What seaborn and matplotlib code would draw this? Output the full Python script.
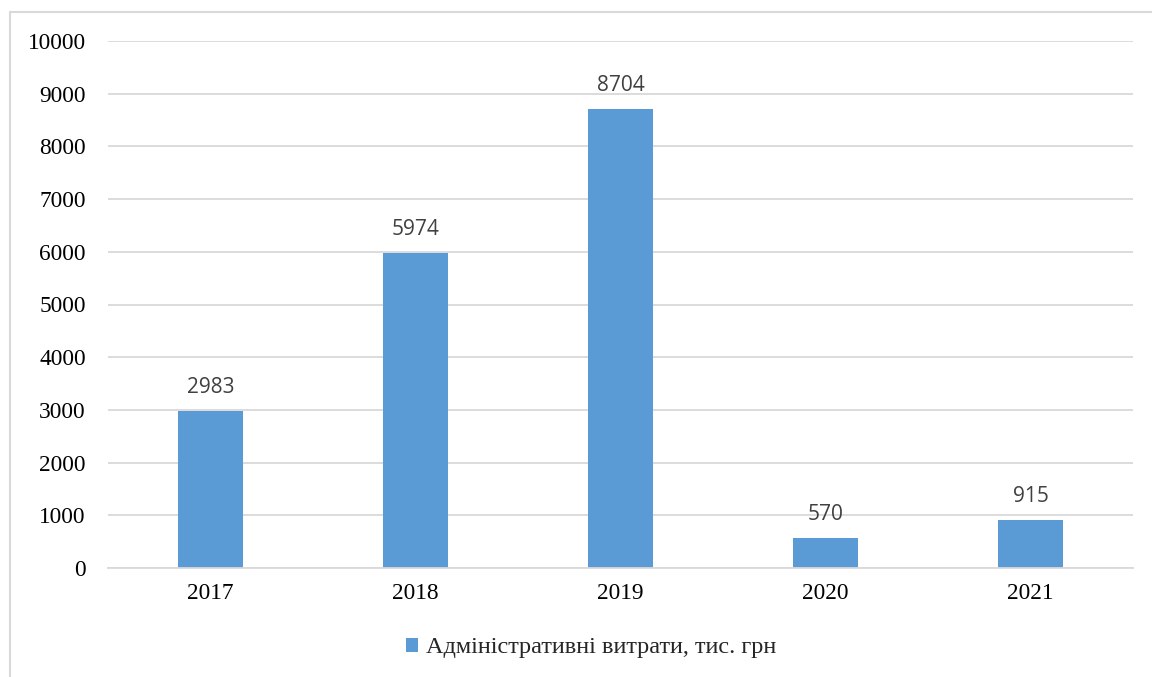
import matplotlib
matplotlib.use("Agg")
import matplotlib.pyplot as plt
from matplotlib.patches import Rectangle
import seaborn as sns
import pandas as pd

# Data
years = ["2017", "2018", "2019", "2020", "2021"]
admin_costs = [2983, 5974, 8704, 570, 915]
series_name = "Адміністративні витрати, тис. грн"
y_ticks = [0, 1000, 2000, 3000, 4000, 5000, 6000, 7000, 8000, 9000, 10000]

bar_color = "#5B9BD5"
grid_color = "#D9D9D9"

sns.set_theme(style="white")
plt.rcParams["font.family"] = ["Liberation Serif", "DejaVu Serif"]

df = pd.DataFrame({"year": years, "value": admin_costs, "series": series_name})

fig = plt.figure(figsize=(11.52, 6.77), dpi=100)
ax = fig.add_axes([108 / 1152, 109 / 677, 1025 / 1152, 527 / 677])

sns.barplot(data=df, x="year", y="value", hue="series", palette=[bar_color],
            width=0.315, ax=ax, saturation=1, dodge=False, linewidth=0)

ax.set_ylim(0, 10000)
ax.set_xlim(-0.5, len(years) - 0.5)
ax.set_yticks(y_ticks)
ax.set_yticklabels([str(t) for t in y_ticks])
ax.set_xlabel("")
ax.set_ylabel("")
ax.set_axisbelow(True)
ax.yaxis.grid(True, color=grid_color, linewidth=1.3)
ax.xaxis.grid(False)
for side in ("top", "right", "left"):
    ax.spines[side].set_visible(False)
ax.spines["bottom"].set_color(grid_color)
ax.spines["bottom"].set_linewidth(1.3)
ax.tick_params(axis="both", length=0, labelsize=16.8, colors="black")
ax.tick_params(axis="y", pad=16)
ax.tick_params(axis="x", pad=11)

# Value labels above bars
for i, v in enumerate(admin_costs):
    ax.annotate(str(v), xy=(i, v), xytext=(0, 13), textcoords="offset points",
                ha="center", va="baseline", fontsize=15, color="#404040",
                family=["Open Sans", "DejaVu Sans"])

# Legend below the plot
sns.move_legend(ax, "center", bbox_to_anchor=(591 / 1152, 1 - 648 / 677),
                bbox_transform=fig.transFigure, title=None, frameon=False,
                fontsize=17.5, handlelength=0.5, handleheight=0.5,
                handletextpad=0.3)

# Light frame around the chart
fig.patches.append(Rectangle((9.5 / 1152, -0.05), 1.2, 1.05 - 11.5 / 677,
                             transform=fig.transFigure, fill=False,
                             edgecolor=grid_color, linewidth=1.5, zorder=0))

fig.savefig("out.png", dpi=100, facecolor="white")
